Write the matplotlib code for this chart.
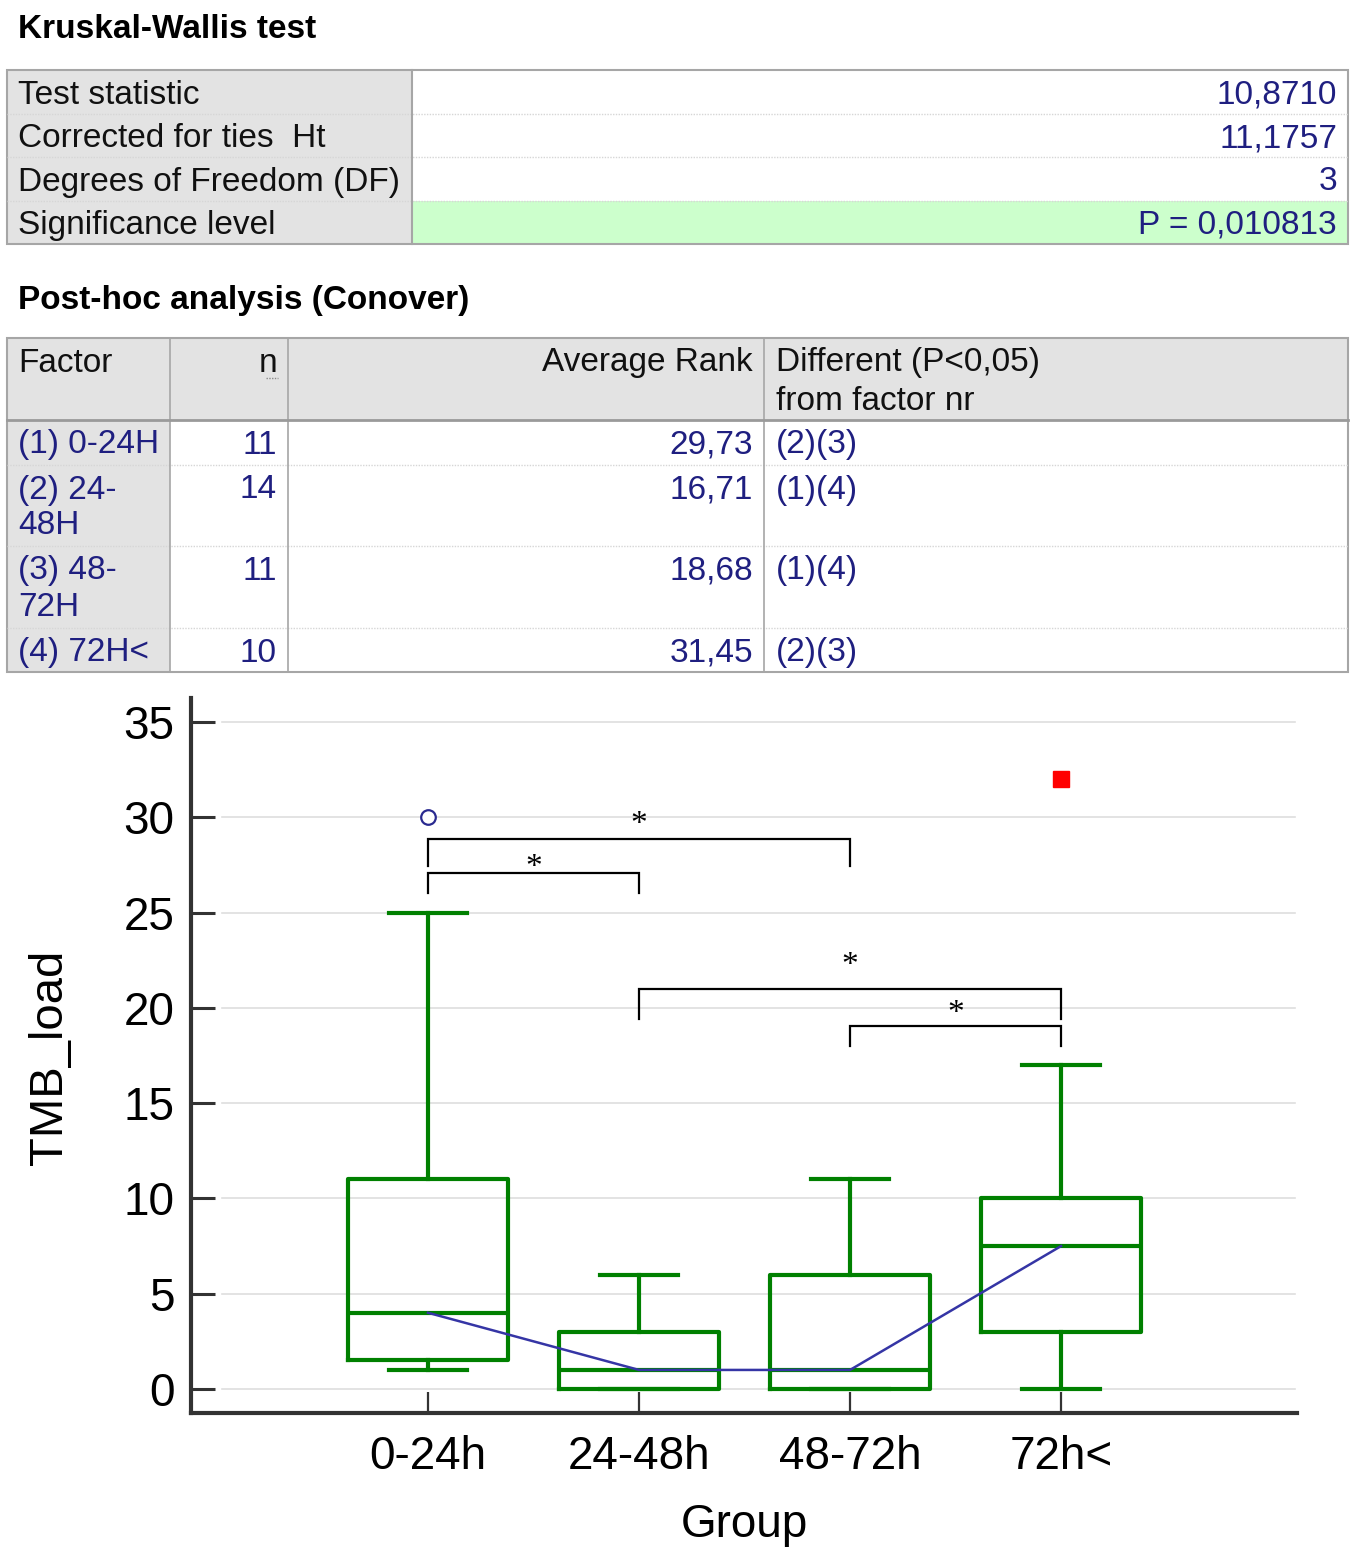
import matplotlib
matplotlib.use("Agg")
import matplotlib.pyplot as plt
from matplotlib.patches import Rectangle

plt.rcParams['font.family'] = ['Liberation Sans', 'DejaVu Sans']

# ---------------- data ----------------
kw_labels = ["Test statistic", "Corrected for ties  Ht", "Degrees of Freedom (DF)", "Significance level"]
kw_values = ["10,8710", "11,1757", "3", "P = 0,010813"]

ph_headers = ["Factor", "n", "Average Rank", "Different (P<0,05)\nfrom factor nr"]
ph_factors = ["(1) 0-24H", "(2) 24-\n48H", "(3) 48-\n72H", "(4) 72H<"]
ph_n = [11, 14, 11, 10]
ph_rank = ["29,73", "16,71", "18,68", "31,45"]
ph_diff = ["(2)(3)", "(1)(4)", "(1)(4)", "(2)(3)"]

groups = ["0-24h", "24-48h", "48-72h", "72h<"]
whis_lo = [1, 0, 0, 0]
q1 = [1.5, 0, 0, 3]
median = [4, 1, 1, 7.5]
q3 = [11, 3, 6, 10]
whis_hi = [25, 6, 11, 17]
outlier_circle = [(1, 30)]
outlier_square = [(4, 32)]

sig_pairs = [(1, 2), (1, 3), (2, 4), (3, 4)]
sig_top = [27.09, 28.86, 20.99, 19.05]
sig_leg = [26.03, 27.46, 19.43, 18.0]
sig_star = [27.65, 29.91, 22.51, 19.99]

# ---------------- figure ----------------
W, H = 1357, 1551
fig = plt.figure(figsize=(W / 100, H / 100), dpi=100)
bg = fig.add_axes([0, 0, 1, 1])
bg.set_xlim(0, W)
bg.set_ylim(H, 0)
bg.axis('off')

navy = '#1f1f80'
gray_bg = '#e3e3e3'
border = '#a6a6a6'
sep = '#d6d6d6'
fs = 24
dy = 3

# Table 1
bg.text(18, 30, "Kruskal-Wallis test", fontsize=fs, fontweight='bold', va='center', ha='left')
rows1 = [70, 114, 157, 201, 244]
x0, xs, x1 = 7, 412, 1348
for i in range(4):
    top, bot = rows1[i], rows1[i + 1]
    bg.add_patch(Rectangle((x0, top), xs - x0, bot - top, facecolor=gray_bg, edgecolor='none'))
    fc = '#ccffcc' if i == 3 else 'white'
    bg.add_patch(Rectangle((xs, top), x1 - xs, bot - top, facecolor=fc, edgecolor='none'))
    yc = (top + bot) / 2 + dy
    bg.text(18, yc, kw_labels[i], fontsize=fs, va='center', ha='left', color='#111111')
    bg.text(1337, yc, kw_values[i], fontsize=fs, va='center', ha='right', color=navy)
    if i > 0:
        bg.plot([x0, x1], [top, top], color=sep, lw=1, ls=(0, (1, 1)))
bg.plot([xs, xs], [rows1[0], rows1[-1]], color=border, lw=1.5)
bg.add_patch(Rectangle((x0, rows1[0]), x1 - x0, rows1[-1] - rows1[0], facecolor='none', edgecolor=border, lw=1.5))

# Table 2
bg.text(18, 300, "Post-hoc analysis (Conover)", fontsize=fs, fontweight='bold', va='center', ha='left')
cols = [7, 170, 288, 764, 1348]
rows2 = [338, 420, 465, 546, 628, 672]
bg.add_patch(Rectangle((cols[0], rows2[0]), cols[-1] - cols[0], rows2[1] - rows2[0], facecolor=gray_bg, edgecolor='none'))
for i in range(4):
    top, bot = rows2[i + 1], rows2[i + 2]
    bg.add_patch(Rectangle((cols[0], top), cols[1] - cols[0], bot - top, facecolor=gray_bg, edgecolor='none'))
    bg.add_patch(Rectangle((cols[1], top), cols[-1] - cols[1], bot - top, facecolor='white', edgecolor='none'))
    if i > 0:
        bg.plot([cols[0], cols[-1]], [top, top], color=sep, lw=1, ls=(0, (1, 1)))
# header texts
hy = 360 + dy
bg.text(18, hy, ph_headers[0], fontsize=fs, va='center', ha='left', color='#111111')
bg.text(277, hy, ph_headers[1], fontsize=fs, va='center', ha='right', color='#111111')
bg.plot([266, 278], [378, 378], color='#888888', lw=1, ls=(0, (1, 1)))
bg.text(753, hy, ph_headers[2], fontsize=fs, va='center', ha='right', color='#111111')
for k, line in enumerate(ph_headers[3].split("\n")):
    bg.text(776, hy + 38 * k, line, fontsize=fs, va='center', ha='left', color='#111111')
for i in range(4):
    yc = rows2[i + 1] + 22 + dy
    for k, line in enumerate(ph_factors[i].split("\n")):
        bg.text(18, yc + 36 * k, line, fontsize=fs, va='center', ha='left', color=navy)
    bg.text(277, yc, str(ph_n[i]), fontsize=fs, va='center', ha='right', color=navy)
    bg.text(753, yc, ph_rank[i], fontsize=fs, va='center', ha='right', color=navy)
    bg.text(776, yc, ph_diff[i], fontsize=fs, va='center', ha='left', color=navy)
for c in cols[1:-1]:
    bg.plot([c, c], [rows2[0], rows2[-1]], color=border, lw=1.2)
bg.plot([cols[0], cols[-1]], [rows2[1], rows2[1]], color='#9a9a9a', lw=2)
bg.add_patch(Rectangle((cols[0], rows2[0]), cols[-1] - cols[0], rows2[-1] - rows2[0], facecolor='none', edgecolor=border, lw=1.5))

# ---------------- chart ----------------
axL, axR, axT, axB = 191, 1297, 698, 1413
ax = fig.add_axes([axL / W, (H - axB) / H, (axR - axL) / W, (axB - axT) / H])
ax.set_facecolor('none')
ax.set_xlim(-0.123, 5.118)
ax.set_ylim(-1.26, 36.26)

positions = [1, 2, 3, 4]
stats = []
for i in range(4):
    stats.append(dict(med=median[i], q1=q1[i], q3=q3[i], whislo=whis_lo[i], whishi=whis_hi[i], fliers=[]))
green = '#008000'
lw_box = 3.0
ax.bxp(stats, positions=positions, widths=0.758, capwidths=0.37, showfliers=False,
       boxprops=dict(color=green, lw=lw_box),
       whiskerprops=dict(color=green, lw=lw_box),
       capprops=dict(color=green, lw=lw_box),
       medianprops=dict(color=green, lw=lw_box), zorder=3)
ax.plot(positions, median, color='#3535a5', lw=1.8, zorder=4)
for x, y in outlier_circle:
    ax.plot([x], [y], marker='o', ms=10.5, mfc='white', mec='#2a2a90', mew=1.6, ls='none', zorder=5)
for x, y in outlier_square:
    ax.plot([x], [y], marker='s', ms=11, mfc='#ff0000', mec='#ff0000', ls='none', zorder=5)

for (a, b), top, leg, sy in zip(sig_pairs, sig_top, sig_leg, sig_star):
    ax.plot([a, a, b, b], [leg, top, top, leg], color='black', lw=1.6, zorder=4, solid_joinstyle='miter')
    ax.text((a + b) / 2, sy - 0.72, "*", fontsize=24, family=['Liberation Serif'], ha='center', va='baseline', color='black')

# grid
for yv in range(0, 36, 5):
    ax.axhline(yv, xmin=0.028, xmax=0.998, color='#dedede', lw=1.2, zorder=1)

ax.set_yticks(range(0, 36, 5))
ax.set_xticks(positions)
ax.set_xticklabels(groups)
for s in ['top', 'right']:
    ax.spines[s].set_visible(False)
for s in ['left', 'bottom']:
    ax.spines[s].set_linewidth(3)
    ax.spines[s].set_color('#333333')
ax.tick_params(axis='y', direction='in', length=17, width=2.2, color='#333333', labelsize=33, pad=12)
ax.tick_params(axis='x', direction='in', length=15, width=1.6, color='#333333', labelsize=33, pad=16)
ax.set_ylabel("TMB_load", fontsize=34)
ax.yaxis.set_label_coords(-0.1275, 0.498)
ax.yaxis.label.set_va('center')
ax.set_xlabel("Group", fontsize=33)
ax.xaxis.set_label_coords(0.5, -0.156)
ax.xaxis.label.set_va('center')

fig.savefig("out.png", dpi=100)
